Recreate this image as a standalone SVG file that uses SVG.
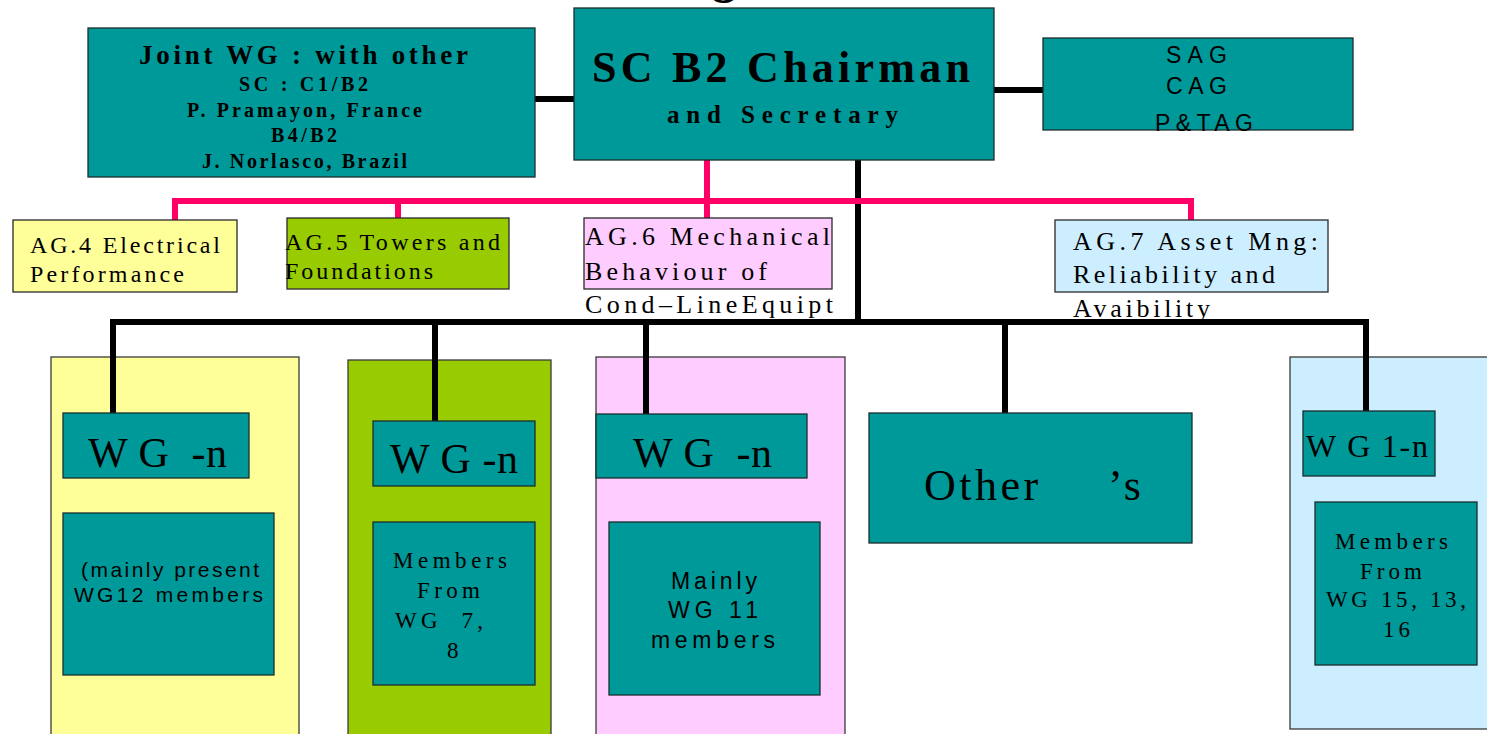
<svg xmlns="http://www.w3.org/2000/svg" width="1487" height="734" viewBox="0 0 1487 734">
<style>
.teal{fill:#009999;stroke:#1b2e2e;stroke-width:1.3}
.box{stroke:#2a2a2a;stroke-width:1.3}
.col{stroke:#3a3a3a;stroke-width:1.3}
.serif{font-family:"Liberation Serif","Times New Roman",serif;fill:#000}
.sans{font-family:"Liberation Sans",Arial,sans-serif;fill:#000}
.b{font-weight:bold}
.blk{stroke:#000;stroke-width:6;fill:none}
.pink{stroke:#ff0066;stroke-width:6;fill:none}
</style>
<rect width="1487" height="734" fill="#fff"/>
<g id="title-fragment"><text class="serif b" x="712" y="-7" font-size="48">g</text></g>

<g id="columns">
<rect class="col" x="51" y="357" width="248" height="390" fill="#ffff99"/>
<rect class="col" x="348" y="360" width="203" height="390" fill="#99cc00"/>
<rect class="col" x="596" y="357" width="249" height="390" fill="#ffccff"/>
<rect class="col" x="1290" y="357" width="210" height="372" fill="#cceeff"/>
</g>

<g id="connectors">
<path class="blk" d="M535,99H574M994,90H1043M858,160V322M110,322H1369M113,322V413M435,322V421M646,322V414M1005,322V413M1366,322V411"/>
<path class="pink" d="M707,160V218M172,201H1194M175,201V220M398,201V218M1191,201V220"/>
</g>

<g id="chairman">
<rect class="teal" x="574" y="8" width="420" height="152"/>
<text class="serif b" x="592" y="82" font-size="44" textLength="378" lengthAdjust="spacing">SC B2 Chairman</text>
<text class="serif b" x="667" y="123" font-size="25" textLength="231" lengthAdjust="spacing">and Secretary</text>
</g>

<g id="joint-wg">
<rect class="teal" x="88" y="28" width="447" height="149"/>
<text class="serif b" x="139" y="64" font-size="27" textLength="329" lengthAdjust="spacing">Joint WG : with other</text>
<text class="serif b" x="239" y="91" font-size="20" textLength="129" lengthAdjust="spacing">SC : C1/B2</text>
<text class="serif b" x="187" y="117" font-size="20" textLength="235" lengthAdjust="spacing">P. Pramayon, France</text>
<text class="serif b" x="271" y="142" font-size="20" textLength="66" lengthAdjust="spacing">B4/B2</text>
<text class="serif b" x="202" y="168" font-size="20" textLength="205" lengthAdjust="spacing">J. Norlasco, Brazil</text>
</g>

<g id="advisory">
<rect class="teal" x="1043" y="38" width="310" height="92"/>
<text class="sans" x="1166" y="63" font-size="23" textLength="61" lengthAdjust="spacing">SAG</text>
<text class="sans" x="1166" y="94" font-size="23" textLength="61" lengthAdjust="spacing">CAG</text>
<text class="sans" x="1155" y="131" font-size="23" textLength="98" lengthAdjust="spacing">P&amp;TAG</text>
</g>

<g id="ag4">
<rect class="box" x="13" y="220" width="224" height="72" fill="#ffff99"/>
<text class="serif" x="30" y="253" font-size="24" textLength="190" lengthAdjust="spacing">AG.4 Electrical</text>
<text class="serif" x="30" y="282" font-size="24" textLength="154" lengthAdjust="spacing">Performance</text>
</g>

<g id="ag5">
<rect class="box" x="287" y="218" width="222" height="71" fill="#99cc00"/>
<text class="serif" x="285" y="250" font-size="24" textLength="215" lengthAdjust="spacing">AG.5 Towers and</text>
<text class="serif" x="285" y="279" font-size="24" textLength="148" lengthAdjust="spacing">Foundations</text>
</g>

<g id="ag6">
<rect class="box" x="584" y="218" width="248" height="71" fill="#ffccff"/>
<text class="serif" x="585" y="245" font-size="26" textLength="245" lengthAdjust="spacing">AG.6 Mechanical</text>
<text class="serif" x="585" y="280" font-size="26" textLength="182" lengthAdjust="spacing">Behaviour of</text>
<text class="serif" x="585" y="313" font-size="26" textLength="248" lengthAdjust="spacing">Cond–LineEquipt</text>
</g>

<g id="ag7">
<rect class="box" x="1055" y="220" width="273" height="72" fill="#cceeff"/>
<text class="serif" x="1073" y="250" font-size="26" textLength="245" lengthAdjust="spacing">AG.7 Asset Mng:</text>
<text class="serif" x="1073" y="283" font-size="26" textLength="202" lengthAdjust="spacing">Reliability and</text>
<text class="serif" x="1073" y="317" font-size="26" textLength="137" lengthAdjust="spacing">Avaibility</text>
</g>

<g id="wg-ag4">
<rect class="teal" x="63" y="413" width="186" height="65"/>
<text class="serif" x="88" y="467" font-size="42" textLength="139" lengthAdjust="spacing" xml:space="preserve">W G  -n</text>
</g>
<g id="members-ag4">
<rect class="teal" x="63" y="513" width="211" height="162"/>
<text class="sans" x="81" y="577" font-size="21" textLength="178" lengthAdjust="spacing">(mainly present</text>
<text class="sans" x="74" y="602" font-size="21" textLength="189" lengthAdjust="spacing">WG12 members</text>
</g>

<g id="wg-ag5">
<rect class="teal" x="373" y="421" width="162" height="65"/>
<text class="serif" x="390" y="473" font-size="42" textLength="128" lengthAdjust="spacing">W G -n</text>
</g>
<g id="members-ag5">
<rect class="teal" x="373" y="522" width="162" height="163"/>
<text class="serif" x="393" y="568" font-size="23" textLength="114" lengthAdjust="spacing">Members</text>
<text class="serif" x="417" y="598" font-size="23" textLength="63" lengthAdjust="spacing">From</text>
<text class="serif" x="395" y="628" font-size="23" textLength="88" lengthAdjust="spacing" xml:space="preserve">WG  7,</text>
<text class="serif" x="447" y="658" font-size="23">8</text>
</g>

<g id="wg-ag6">
<rect class="teal" x="596" y="414" width="211" height="64"/>
<text class="serif" x="633" y="467" font-size="42" textLength="139" lengthAdjust="spacing" xml:space="preserve">W G  -n</text>
</g>
<g id="members-ag6">
<rect class="teal" x="609" y="522" width="211" height="173"/>
<text class="sans" x="671" y="589" font-size="23" textLength="86" lengthAdjust="spacing">Mainly</text>
<text class="sans" x="668" y="618" font-size="23" textLength="90" lengthAdjust="spacing">WG 11</text>
<text class="sans" x="651" y="648" font-size="23" textLength="124" lengthAdjust="spacing">members</text>
</g>

<g id="others">
<rect class="teal" x="869" y="413" width="323" height="130"/>
<text class="serif" x="924" y="500" font-size="44" letter-spacing="3.5">Other<tspan x="1108">’s</tspan></text>
</g>

<g id="wg-ag7">
<rect class="teal" x="1303" y="411" width="132" height="65"/>
<text class="serif" x="1306" y="457" font-size="32" textLength="122" lengthAdjust="spacing">W G 1-n</text>
</g>
<g id="members-ag7">
<rect class="teal" x="1315" y="502" width="162" height="163"/>
<text class="serif" x="1335" y="549" font-size="23" textLength="113" lengthAdjust="spacing">Members</text>
<text class="serif" x="1360" y="579" font-size="23" textLength="62" lengthAdjust="spacing">From</text>
<text class="serif" x="1326" y="607" font-size="23" textLength="140" lengthAdjust="spacing">WG 15, 13,</text>
<text class="serif" x="1383" y="637" font-size="23" textLength="27" lengthAdjust="spacing">16</text>
</g>
</svg>
